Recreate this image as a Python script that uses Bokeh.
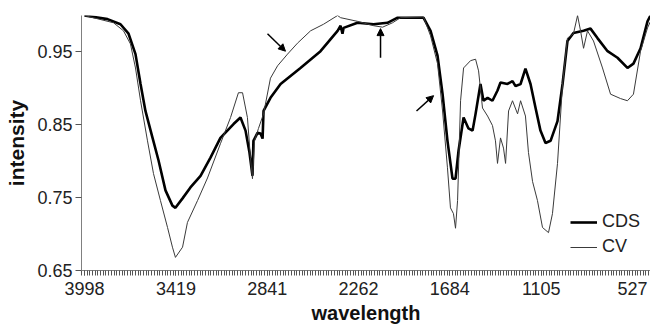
from bokeh.plotting import figure
from bokeh.models import Range1d, FixedTicker, Legend, LegendItem, Arrow, NormalHead
from bokeh.embed import file_html
from bokeh.resources import INLINE
import numpy as np

# ---- data ----
wavenumber_cds = [3998, 3852, 3770, 3719, 3675, 3643, 3612, 3567, 3529, 3485, 3441, 3422, 3377, 3327,
                  3263, 3200, 3137, 3054, 3010, 2978, 2953, 2934, 2928, 2902, 2883, 2870, 2864, 2820,
                  2756, 2630, 2503, 2395, 2376, 2364, 2357, 2269, 2167, 2079, 2015, 1851, 1806, 1762,
                  1730, 1699, 1667, 1648, 1629, 1597, 1566, 1540, 1521, 1490, 1471, 1445, 1414, 1382,
                  1363, 1319, 1287, 1268, 1236, 1205, 1173, 1141, 1110, 1078, 1046, 1002, 970, 939,
                  901, 837, 793, 749, 685, 622, 559, 521, 476, 432, 413]
intensity_cds = [1.0, 0.995, 0.988, 0.975, 0.947, 0.906, 0.869, 0.832, 0.801, 0.760, 0.739, 0.736, 0.749, 0.764,
                 0.780, 0.805, 0.832, 0.851, 0.860, 0.842, 0.812, 0.780, 0.828, 0.839, 0.838, 0.831, 0.869, 0.887,
                 0.906, 0.928, 0.951, 0.979, 0.986, 0.975, 0.983, 0.990, 0.988, 0.990, 0.997, 0.997, 0.979, 0.945,
                 0.892, 0.828, 0.776, 0.776, 0.814, 0.860, 0.845, 0.842, 0.865, 0.906, 0.883, 0.887, 0.883, 0.897,
                 0.908, 0.906, 0.910, 0.903, 0.906, 0.927, 0.906, 0.873, 0.842, 0.825, 0.828, 0.855, 0.906, 0.965,
                 0.976, 0.979, 0.982, 0.969, 0.951, 0.942, 0.928, 0.934, 0.955, 0.992, 1.0]

wavenumber_cv = [3998, 3814, 3751, 3707, 3675, 3643, 3599, 3561, 3517, 3472, 3441, 3422, 3377, 3346,
                 3282, 3219, 3137, 3073, 3023, 2997, 2966, 2947, 2934, 2921, 2896, 2864, 2820, 2775,
                 2712, 2649, 2566, 2484, 2395, 2376, 2269, 2167, 2110, 2047, 1996, 1851, 1806, 1762,
                 1730, 1699, 1680, 1661, 1648, 1635, 1616, 1597, 1553, 1521, 1502, 1477, 1445, 1414,
                 1395, 1382, 1363, 1344, 1331, 1312, 1287, 1255, 1236, 1205, 1186, 1160, 1129, 1097,
                 1059, 1034, 1002, 970, 939, 901, 875, 856, 837, 812, 774, 717, 666, 603, 559, 521,
                 476, 432, 413]
intensity_cv = [1.0, 0.990, 0.979, 0.961, 0.928, 0.883, 0.828, 0.783, 0.746, 0.709, 0.682, 0.668, 0.682, 0.716,
                0.746, 0.777, 0.824, 0.860, 0.894, 0.894, 0.860, 0.805, 0.776, 0.828, 0.845, 0.865, 0.914, 0.931,
                0.947, 0.962, 0.979, 0.988, 1.0, 0.997, 0.992, 0.986, 0.984, 0.990, 0.997, 0.998, 0.972, 0.934,
                0.869, 0.791, 0.736, 0.728, 0.708, 0.746, 0.883, 0.928, 0.938, 0.940, 0.924, 0.873, 0.862, 0.849,
                0.828, 0.797, 0.832, 0.818, 0.797, 0.869, 0.883, 0.865, 0.883, 0.862, 0.812, 0.772, 0.746, 0.709,
                0.702, 0.728, 0.797, 0.906, 0.969, 0.975, 1.0, 0.979, 0.955, 0.979, 0.965, 0.928, 0.892, 0.886,
                0.883, 0.892, 0.951, 0.983, 0.992]

x_tick_labels = [3998, 3419, 2841, 2262, 1684, 1105, 527]
y_ticks = [0.65, 0.75, 0.85, 0.95]

# annotation arrows: (x_start, y_start, x_end, y_end)
arrow_x_start = [2839, 2123, 1895]
arrow_y_start = [0.975, 0.942, 0.869]
arrow_x_end = [2725, 2123, 1787]
arrow_y_end = [0.951, 0.982, 0.890]

FONT = "Liberation Sans"

p = figure(width=650, height=326, output_backend="svg", toolbar_location=None,
           x_range=Range1d(4017, 413), y_range=Range1d(0.65, 1.0),
           min_border_left=81, min_border_right=0, min_border_top=15, min_border_bottom=56)

p.grid.visible = False
p.outline_line_color = None
p.background_fill_color = "white"
p.border_fill_color = "white"

r_cds = p.line(wavenumber_cds, intensity_cds, line_color="black", line_width=2.6)
r_cv = p.line(wavenumber_cv, intensity_cv, line_color="#3a3a3a", line_width=1.0)

# axes
step = (x_tick_labels[0] - x_tick_labels[-1]) / 204.0
minor = list(np.arange(x_tick_labels[0] + 2 * step, 400, -step))
p.xaxis.ticker = FixedTicker(ticks=x_tick_labels, minor_ticks=minor)
p.yaxis.ticker = FixedTicker(ticks=y_ticks)
p.yaxis.major_label_overrides = {v: f"{v:.2f}" for v in y_ticks}

for ax in (p.xaxis, p.yaxis):
    ax.axis_line_color = "#808080"
    ax.axis_line_width = 1
    ax.major_tick_line_color = "#555555"
    ax.minor_tick_line_color = "#555555"
    ax.major_label_text_font = FONT
    ax.major_label_text_font_size = "18px"
    ax.major_label_text_color = "#222222"
    ax.axis_label_text_font = FONT
    ax.axis_label_text_font_size = "20px"
    ax.axis_label_text_font_style = "bold"
    ax.axis_label_text_color = "#111111"
    ax.major_tick_in = 0
    ax.minor_tick_in = 0

p.xaxis.major_tick_out = 5
p.xaxis.minor_tick_out = 5
p.xaxis.major_label_standoff = 6
p.xaxis.axis_label = "wavelength"
p.xaxis.axis_label_standoff = 4

p.yaxis.major_tick_out = 6
p.yaxis.minor_tick_out = 0
p.yaxis.major_label_standoff = 3
p.yaxis.axis_label = "intensity"
p.yaxis.axis_label_standoff = 6
p.yaxis.axis_label_text_font_size = "21px"

# arrows
for xs, ys, xe, ye in zip(arrow_x_start, arrow_y_start, arrow_x_end, arrow_y_end):
    p.add_layout(Arrow(end=NormalHead(size=7, fill_color="black", line_color="black"),
                       x_start=xs, y_start=ys, x_end=xe, y_end=ye,
                       line_color="black", line_width=1.5))

legend = Legend(items=[LegendItem(label="CDS", renderers=[r_cds]),
                       LegendItem(label="CV", renderers=[r_cv])],
                location=(489, 13), orientation="vertical")
legend.border_line_alpha = 0
legend.background_fill_alpha = 0
legend.padding = 0
legend.margin = 0
legend.spacing = 4
legend.glyph_width = 27
legend.glyph_height = 20
legend.label_height = 20
legend.label_standoff = 5
legend.label_text_font = FONT
legend.label_text_font_size = "18px"
legend.label_text_color = "#222222"
p.add_layout(legend, "center")

open("out.html", "w").write(file_html(p, INLINE))
